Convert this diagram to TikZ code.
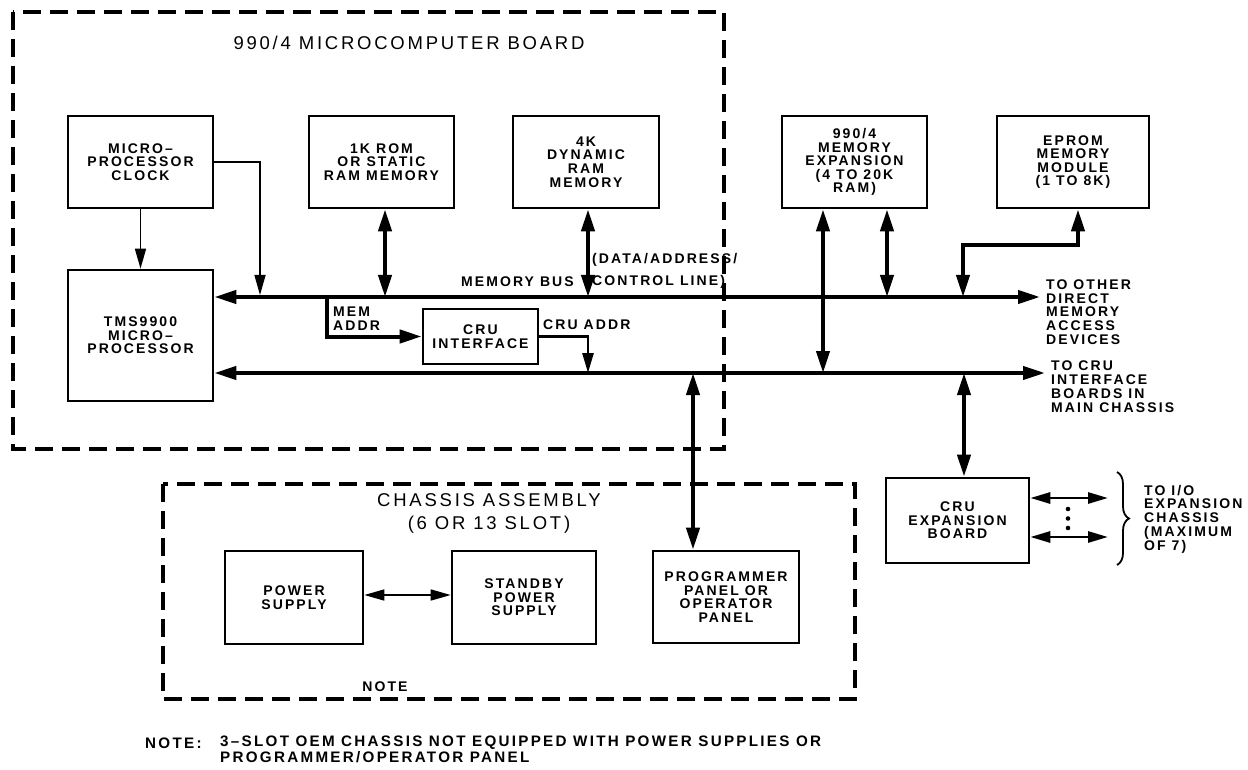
\documentclass[tikz,border=0pt]{standalone}
\usepackage{fontspec}
\setmainfont{Liberation Sans}[LetterSpace=15]
\usetikzlibrary{arrows.meta,decorations.pathreplacing,calc}
\tikzset{
  Bt/.tip={Triangle[length=22pt,width=13pt]},
  St/.tip={Triangle[length=20pt,width=11pt]},
  box/.style={draw, line width=2.6pt, inner sep=0pt, align=center,
    font=\bfseries\fontsize{14}{13.6}\selectfont},
  lbl/.style={inner sep=0pt, align=left, font=\bfseries\fontsize{14}{13.8}\selectfont},
  notelbl/.style={inner sep=0pt, align=left, font=\bfseries\fontsize{15.2}{14}\selectfont},
  ttl/.style={inner sep=0pt, align=center, font=\fontsize{18.5}{23}\selectfont},
  busln/.style={line width=4pt},
  midln/.style={line width=2.8pt},
  thinln/.style={line width=1.5pt},
  dashbox/.style={line width=4.5pt, dash pattern=on 18pt off 9pt}
}
\begin{document}
\begin{tikzpicture}[x=1pt,y=-1pt]
\useasboundingbox (0,0) rectangle (1248,770);
\fill[white] (0,0) rectangle (1248,770);

% dashed enclosures
\draw[dashbox] (13,12) rectangle (724,449);
\draw[dashbox] (163,484) rectangle (855,699);

% titles
\node[ttl] (bt) at (409,43) {990/4 MICROCOMPUTER BOARD};
\node[ttl] (ct) at (489,513) {CHASSIS ASSEMBLY\\(6 OR 13 SLOT)};

% boxes
\node[box, minimum width=145pt, minimum height=92pt] (clk) at (140.5,162) {MICRO–\\PROCESSOR\\CLOCK};
\node[box, minimum width=145pt, minimum height=92pt] (rom) at (381.5,162) {1K ROM\\OR STATIC\\RAM MEMORY};
\node[box, minimum width=146pt, minimum height=92pt] (dram) at (586,162) {4K\\DYNAMIC\\RAM\\MEMORY};
\node[box, minimum width=145pt, minimum height=92pt] (mex) at (854.5,162) {990/4\\MEMORY\\EXPANSION\\(4 TO 20K\\RAM)};
\node[box, minimum width=152pt, minimum height=92pt] (eprom) at (1073,162) {EPROM\\MEMORY\\MODULE\\(1 TO 8K)};
\node[box, minimum width=145pt, minimum height=131pt] (cpu) at (140.5,335.5) {TMS9900\\MICRO–\\PROCESSOR};
\node[box, minimum width=115pt, minimum height=55pt] (cruif) at (480.5,336.5) {CRU\\INTERFACE};
\node[box, minimum width=143pt, minimum height=85pt] (cruexp) at (957.5,520.5) {CRU\\EXPANSION\\BOARD};
\node[box, minimum width=138pt, minimum height=93pt] (psu) at (294,597.5) {POWER\\SUPPLY};
\node[box, minimum width=144pt, minimum height=93pt] (stby) at (524,597.5) {STANDBY\\POWER\\SUPPLY};
\node[box, minimum width=146pt, minimum height=92pt] (prog) at (726,597) {PROGRAMMER\\PANEL OR\\OPERATOR\\PANEL};

% bus coordinates
\coordinate (mbR) at (1040,297);
\coordinate (cbR) at (1045,373);
\coordinate (clkTap) at (260,295);
\coordinate (romTap) at (385,297);
\coordinate (dramTap) at (588,297);
\coordinate (maTap) at (327,297);
\coordinate (caTap) at (588,373);
\coordinate (mexA) at (823,373);
\coordinate (mexB) at (887,297);
\coordinate (epK) at (1078,245);
\coordinate (epTap) at (963,297);
\coordinate (pgTap) at (693,373);
\coordinate (ceTap) at (964,373);
\coordinate (o1) at (1108,498);
\coordinate (o2) at (1108,537);

% buses
\draw[busln, Bt-Bt] (cpu.east |- mbR) -- (mbR);
\draw[busln, Bt-Bt] (cpu.east |- cbR) -- (cbR);

% connectors
\draw[thinln, -St] (clk.south) -- (cpu.north);
\draw[thinln, -St] (clk.east) -| (clkTap);
\draw[busln, Bt-Bt] (rom.south -| romTap) -- (romTap);
\draw[busln, Bt-Bt] (dram.south -| dramTap) -- (dramTap);
\draw[busln, -Bt] (maTap) |- (cruif.west);
\draw[midln, -St] (cruif.east) -| (caTap);
\draw[busln, Bt-Bt] (mex.south -| mexA) -- (mexA);
\draw[busln, Bt-Bt] (mex.south -| mexB) -- (mexB);
\draw[busln, Bt-Bt] (eprom.south -| epK) -- (epK) -| (epTap);
\draw[busln, Bt-Bt] (pgTap) -- (prog.north -| pgTap);
\draw[busln, Bt-Bt] (ceTap) -- (cruexp.north -| ceTap);
\draw[midln, St-St] (cruexp.east |- o1) -- (o1);
\draw[midln, St-St] (cruexp.east |- o2) -- (o2);
\draw[thinln, St-St] (psu.east |- 0,595) -- (stby.west |- 0,595);

% ellipsis dots
\fill (1068,509) circle[radius=2.3pt];
\fill (1068,518.5) circle[radius=2.3pt];
\fill (1068,528) circle[radius=2.3pt];

% brace
\draw[line width=1.8pt, decorate, decoration={brace, amplitude=12pt}] (1117,472) -- (1117,565);

% labels
\node[lbl, anchor=east] (mbus) at (574,282) {MEMORY BUS};
\node[lbl, anchor=west] (dal1) at (592,260) {(DATA/ADDRESS/};
\node[lbl, anchor=west] (dal2) at (592,282) {CONTROL LINE)};
\node[lbl, anchor=west] (madr) at (333,319) {MEM\\ADDR};
\node[lbl, anchor=west] (cadr) at (543,325) {CRU ADDR};
\node[lbl, anchor=west] (tdma) at (1046,312) {TO OTHER\\DIRECT\\MEMORY\\ACCESS\\DEVICES};
\node[lbl, anchor=west] (tcru) at (1051,386.5) {TO CRU\\INTERFACE\\BOARDS IN\\MAIN CHASSIS};
\node[lbl, anchor=west] (tio) at (1144,519) {TO I/O\\EXPANSION\\CHASSIS\\(MAXIMUM\\OF 7)};
\node[lbl] (cnote) at (385,687) {NOTE};
\node[notelbl, anchor=west] (nt) at (145,743) {NOTE:};
\node[notelbl, anchor=west] (nt1) at (220,743) {3–SLOT OEM CHASSIS NOT EQUIPPED WITH POWER SUPPLIES OR};
\node[notelbl, anchor=west] (nt2) at (220,757) {PROGRAMMER/OPERATOR PANEL};
\end{tikzpicture}
\end{document}
